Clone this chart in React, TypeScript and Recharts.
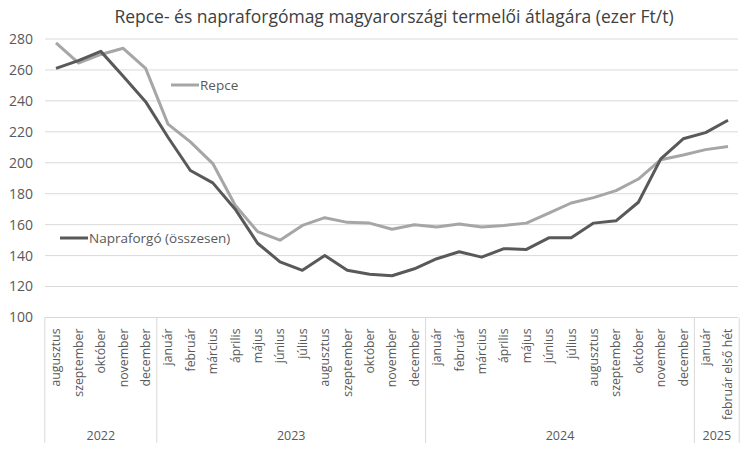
import { CartesianGrid, Line, LineChart, XAxis, YAxis } from "recharts"

const months = [
  "augusztus", "szeptember", "október", "november", "december",
  "január", "február", "március", "április", "május", "június", "július",
  "augusztus", "szeptember", "október", "november", "december",
  "január", "február", "március", "április", "május", "június", "július",
  "augusztus", "szeptember", "október", "november", "december",
  "január", "február első hét",
]

const years = [
  "2022", "2022", "2022", "2022", "2022",
  "2023", "2023", "2023", "2023", "2023", "2023", "2023", "2023", "2023", "2023", "2023", "2023",
  "2024", "2024", "2024", "2024", "2024", "2024", "2024", "2024", "2024", "2024", "2024", "2024",
  "2025", "2025",
]

const repce = [
  277.5, 264.5, 270, 274, 261,
  225, 213.5, 199.5, 172.5, 155.5, 150, 159.5, 164.5, 161.5, 161, 157, 160,
  158.5, 160.5, 158.5, 159.5, 161, 167.5, 174, 177.5, 182, 189.5, 202, 205,
  208.5, 210.5,
]

const napraforgo = [
  261, 266, 272, 256, 239.5,
  216.5, 195, 187, 170, 148, 136, 130.5, 140, 130.5, 128, 127, 131.5,
  138, 142.5, 139, 144.5, 144, 151.5, 151.5, 161, 162.5, 174.5, 202.5, 215.5,
  219.5, 227.5,
]

const yTicks = [100, 120, 140, 160, 180, 200, 220, 240, 260, 280]

const data = months.map((m, i) => ({
  key: `${years[i]}-${i}`,
  month: m,
  repce: repce[i],
  napraforgo: napraforgo[i],
}))

const W = 750
const H = 452
const LEFT = 45
const RIGHT = 12
const TOP = 39
const AXIS_Y = 317.5
const PAD_L = 11
const PAD_R = 10
const STEP = (W - RIGHT - PAD_R - LEFT - PAD_L) / (months.length - 1)
const TEXT = "#595959"
const GRID = "#d9d9d9"
const FONT = "'Open Sans', sans-serif"

function MonthTick(props: any) {
  const { x, index } = props
  const yr = years[index]
  const first = index === 0 || years[index - 1] !== yr
  const last = index === months.length - 1
  const count = years.filter((y) => y === yr).length
  return (
    <g>
      <text
        transform={`translate(${x},${AXIS_Y + 11}) rotate(-90)`}
        textAnchor="end"
        dy="0.35em"
        fontSize={12.3}
        fill={TEXT}
        fontFamily={FONT}
      >
        {months[index]}
      </text>
      {first && (
        <>
          <line x1={x - STEP / 2} x2={x - STEP / 2} y1={AXIS_Y} y2={443} stroke={GRID} />
          <text
            x={x + ((count - 1) * STEP) / 2}
            y={440}
            textAnchor="middle"
            fontSize={12.5}
            fill={TEXT}
            fontFamily={FONT}
          >
            {yr}
          </text>
        </>
      )}
      {last && <line x1={x + STEP / 2} x2={x + STEP / 2} y1={AXIS_Y} y2={443} stroke={GRID} />}
    </g>
  )
}

function ValueTick(props: any) {
  const { y, payload } = props
  return (
    <text x={33} y={y} dy="0.35em" textAnchor="end" fontSize={14} fill={TEXT} fontFamily={FONT}>
      {payload.value}
    </text>
  )
}

function LegendItem({ left, top, color, label }: { left: number; top: number; color: string; label: string }) {
  return (
    <div style={{ position: "absolute", left, top: top - 10, height: 20, display: "flex", alignItems: "center" }}>
      <svg width={28} height={20}>
        <line x1={0} x2={28} y1={10} y2={10} stroke={color} strokeWidth={3} />
      </svg>
      <span style={{ fontFamily: FONT, fontSize: 13.5, color: TEXT, marginLeft: 1 }}>{label}</span>
    </div>
  )
}

export default function App() {
  return (
    <div style={{ position: "absolute", left: 0, top: 0, width: W, height: H, background: "#fff" }}>
      <div
        style={{
          position: "absolute",
          left: 0,
          width: W + 38,
          top: 4,
          textAlign: "center",
          fontFamily: FONT,
          fontSize: 17.5,
          color: "#404040",
        }}
      >
        Repce- és napraforgómag magyarországi termelői átlagára (ezer Ft/t)
      </div>
      <LineChart
        width={W}
        height={H}
        data={data}
        margin={{ top: TOP, right: RIGHT, left: 0, bottom: 0 }}
        style={{ fontFamily: FONT }}
      >
        <CartesianGrid horizontal vertical={false} stroke={GRID} />
        <XAxis
          dataKey="key"
          interval={0}
          height={H - AXIS_Y}
          padding={{ left: PAD_L, right: PAD_R }}
          tickLine={false}
          axisLine={{ stroke: GRID }}
          tick={<MonthTick />}
        />
        <YAxis
          width={LEFT}
          domain={[100, 280]}
          ticks={yTicks}
          axisLine={false}
          tickLine={false}
          tick={<ValueTick />}
        />
        <Line
          dataKey="repce"
          stroke="#a6a6a6"
          strokeWidth={3}
          dot={false}
          strokeLinejoin="round"
          isAnimationActive={false}
        />
        <Line
          dataKey="napraforgo"
          stroke="#595959"
          strokeWidth={3}
          dot={false}
          strokeLinejoin="round"
          isAnimationActive={false}
        />
      </LineChart>
      <LegendItem left={171} top={85} color="#a6a6a6" label="Repce" />
      <LegendItem left={60} top={238} color="#595959" label="Napraforgó (összesen)" />
    </div>
  )
}
